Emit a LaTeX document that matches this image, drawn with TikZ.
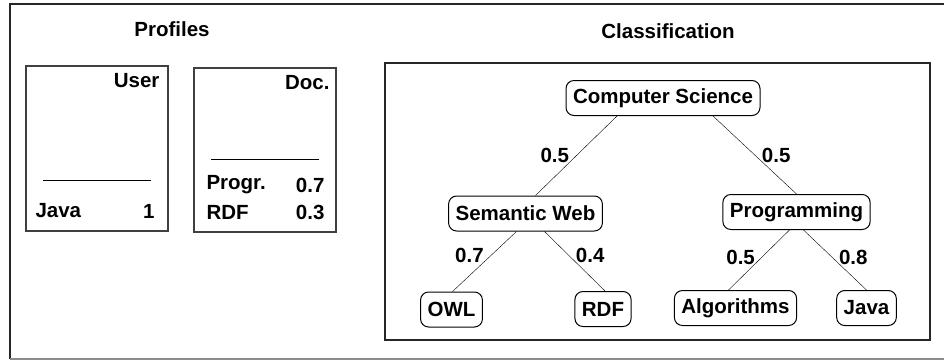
\documentclass[tikz,border=0pt]{standalone}
\usepackage{fontspec}
\setmainfont{Liberation Sans}
\begin{document}
\begin{tikzpicture}[x=1pt,y=-1pt,
    font=\fontsize{20.5}{24}\selectfont\bfseries,
    concept/.style={draw,rounded corners=8pt,line width=1pt,minimum height=35pt,inner xsep=7pt,inner ysep=0pt},
    weight/.style={inner sep=7pt},
    profbox/.style={draw=black!75,line width=1.5pt},
    frame/.style={draw=black!85,line width=2.5pt}]
  \useasboundingbox (0,0) rectangle (944,360);
  % outer frame
  \draw[black!85,line width=2pt] (946,4) -- (10,4) -- (10,359);
  \draw[black!45,line width=1.5pt] (10,359) -- (946,359);
  % profiles
  \node (proftitle) at (172,29) {Profiles};
  \draw[profbox] (26,66) rectangle (168,231);
  \node[anchor=east] (usertitle) at (163,81) {User};
  \draw[line width=1pt] (43,180) -- (151,180);
  \node[anchor=west] (userjava) at (32,211) {Java};
  \node[anchor=east] (userval) at (158,211) {1};
  \draw[profbox] (194,68) rectangle (336,232);
  \node[anchor=east] (doctitle) at (333,83) {Doc.};
  \draw[line width=1pt] (211,159) -- (319,159);
  \node[anchor=west] (docprog) at (203,185) {Progr.};
  \node[anchor=east] (docprogval) at (328,185) {0.7};
  \node[anchor=west] (docrdf) at (203,212) {RDF};
  \node[anchor=east] (docrdfval) at (328,212) {0.3};
  % classification
  \node (classtitle) at (668,31) {Classification};
  \draw[frame] (385,63) rectangle (930,340);
  \node[concept] (cs) at (663,98) {Computer Science};
  \node[concept] (sw) at (525.5,213.5) {Semantic Web};
  \node[concept] (prog) at (796.5,212) {Programming};
  \node[concept] (owl) at (451.5,309.5) {OWL};
  \node[concept] (rdf) at (603,309) {RDF};
  \node[concept] (alg) at (735.5,308) {Algorithms};
  \node[concept] (java) at (866.5,308) {Java};
  \draw ([xshift=-46pt]cs.south) -- node[weight,midway,left] {0.5} ([xshift=10pt]sw.north);
  \draw ([xshift=50pt]cs.south) -- node[weight,midway,right] {0.5} (prog.north);
  \draw ([xshift=-9pt]sw.south) -- node[weight,pos=0.4,left] {0.7} ([xshift=1pt]owl.north);
  \draw ([xshift=19pt]sw.south) -- node[weight,pos=0.4,right] {0.4} ([xshift=2pt]rdf.north);
  \draw ([xshift=-7pt]prog.south) -- node[weight,pos=0.45,left] {0.5} ([xshift=-7pt]alg.north);
  \draw ([xshift=7pt]prog.south) -- node[weight,pos=0.45,right] {0.8} (java.north);
\end{tikzpicture}
\end{document}
